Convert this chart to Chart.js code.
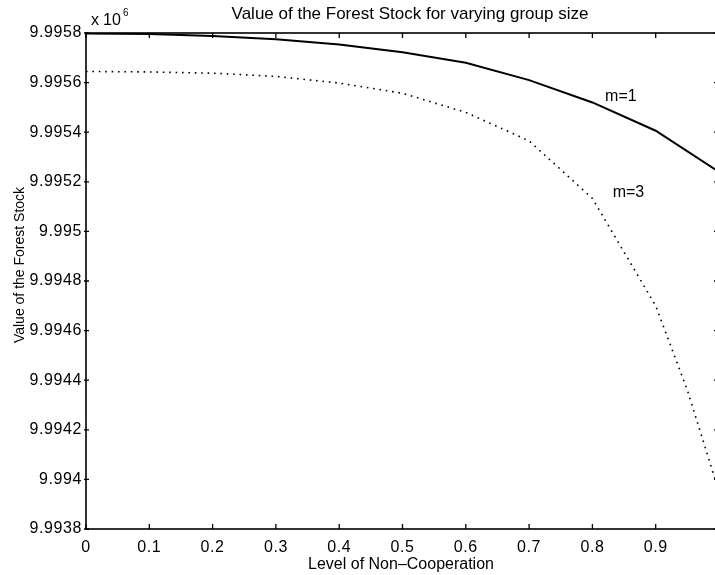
<!DOCTYPE html>
<html>
<head>
<meta charset="utf-8">
<script src="https://cdn.jsdelivr.net/npm/chart.js@4/dist/chart.umd.min.js"></script>
<style>
  html, body { margin: 0; padding: 0; background: #fff; overflow: hidden; }
  #c { display: block; }
</style>
</head>
<body>
<canvas id="c" width="720" height="575"></canvas>
<script>
// Level of non-cooperation (x) and forest stock value (in units of 10^6)
const xLevels = [0, 0.1, 0.2, 0.3, 0.4, 0.5, 0.6, 0.7, 0.8, 0.9, 1.0];
const stockM1 = [9.995798, 9.995796, 9.995788, 9.995775, 9.995754, 9.995722, 9.99568, 9.99561, 9.99552, 9.995406, 9.99524];
const xLevelsM3 = [0, 0.1, 0.2, 0.3, 0.4, 0.5, 0.6, 0.7, 0.8, 0.9, 0.95, 1.0];
const stockM3 = [9.995645, 9.995643, 9.995638, 9.995625, 9.995598, 9.995557, 9.99548, 9.995365, 9.995133, 9.9947, 9.99436, 9.99395];

const xTicks = [0, 0.1, 0.2, 0.3, 0.4, 0.5, 0.6, 0.7, 0.8, 0.9, 1];
const yTicks = [9.9938, 9.994, 9.9942, 9.9944, 9.9946, 9.9948, 9.995, 9.9952, 9.9954, 9.9956, 9.9958];

const seriesLabels = ['m=1', 'm=3'];
// curve labels, anchored in data coordinates
const curveNotes = [
  { text: 'm=1', x: 0.845, y: 9.995542 },
  { text: 'm=3', x: 0.857, y: 9.995155 }
];

const titleText = 'Value of the Forest Stock for varying group size';
const xTitle = 'Level of Non\u2013Cooperation';
const yTitle = 'Value of the Forest Stock';

const FONT = '"Liberation Sans", Arial, Helvetica, sans-serif';
Chart.defaults.font.family = FONT;
Chart.defaults.color = '#000';

const toXY = (xs, ys) => xs.map((x, i) => ({ x: x, y: ys[i] }));

function fmt(v) {
  return String(parseFloat(Number(v).toFixed(4)));
}

// slightly wider lettering for the tick labels
const spacingPlugin = {
  id: 'spacing',
  beforeDraw(chart) { chart.ctx.letterSpacing = '0.6px'; },
  afterDraw(chart) { chart.ctx.letterSpacing = '0px'; }
};

// frame, inward tick marks, titles and curve labels
const framePlugin = {
  id: 'frame',
  afterDraw(chart) {
    const { ctx, chartArea: a, scales } = chart;
    const xs = scales.x, ys = scales.y;
    ctx.save();
    ctx.letterSpacing = '0px';
    ctx.strokeStyle = '#000';
    ctx.lineWidth = 1.6;
    ctx.strokeRect(a.left, a.top, a.right - a.left, a.bottom - a.top);

    ctx.lineWidth = 1.3;
    const tl = 5;
    ctx.beginPath();
    xTicks.forEach(v => {
      const px = xs.getPixelForValue(v);
      ctx.moveTo(px, a.bottom); ctx.lineTo(px, a.bottom - tl);
      ctx.moveTo(px, a.top); ctx.lineTo(px, a.top + tl);
    });
    yTicks.forEach(v => {
      const py = ys.getPixelForValue(v);
      ctx.moveTo(a.left - 2, py); ctx.lineTo(a.left + tl - 2, py);
      ctx.moveTo(a.right, py); ctx.lineTo(a.right - tl, py);
    });
    ctx.stroke();

    ctx.fillStyle = '#000';
    // title
    ctx.font = '17px ' + FONT;
    ctx.textAlign = 'center';
    ctx.textBaseline = 'alphabetic';
    ctx.fillText(titleText, 410, 19);

    // exponent note
    ctx.textAlign = 'left';
    ctx.font = '16px ' + FONT;
    ctx.fillText('x', 91, 25);
    ctx.fillText('10', 103, 25);
    ctx.font = '10px ' + FONT;
    ctx.fillText('6', 123, 16);

    // x axis title
    ctx.font = '16px ' + FONT;
    ctx.textAlign = 'center';
    ctx.fillText(xTitle, 401, 569);

    // y axis title
    ctx.save();
    ctx.translate(24, 265);
    ctx.rotate(-Math.PI / 2);
    ctx.font = '14px ' + FONT;
    ctx.textAlign = 'center';
    ctx.fillText(yTitle, 0, 0);
    ctx.restore();

    // curve labels
    ctx.font = '16px ' + FONT;
    ctx.textAlign = 'center';
    ctx.textBaseline = 'middle';
    curveNotes.forEach(n => {
      ctx.fillText(n.text, xs.getPixelForValue(n.x), ys.getPixelForValue(n.y));
    });
    ctx.restore();
  }
};

new Chart(document.getElementById('c'), {
  type: 'line',
  data: {
    datasets: [
      {
        label: seriesLabels[0],
        data: toXY(xLevels, stockM1),
        borderColor: '#000',
        borderWidth: 2,
        pointRadius: 0,
        tension: 0,
        fill: false
      },
      {
        label: seriesLabels[1],
        data: toXY(xLevelsM3, stockM3),
        borderColor: '#000',
        borderWidth: 1.6,
        borderDash: [1.6, 4.8],
        pointRadius: 0,
        tension: 0,
        fill: false
      }
    ]
  },
  plugins: [spacingPlugin, framePlugin],
  options: {
    responsive: false,
    animation: false,
    layout: { padding: { top: 33, right: 1, left: 0, bottom: 0 } },
    plugins: {
      legend: { display: false },
      title: { display: false },
      tooltip: { enabled: false }
    },
    scales: {
      x: {
        type: 'linear',
        min: 0,
        max: 1,
        afterBuildTicks(scale) {
          scale.ticks = xTicks.map(v => ({ value: v }));
        },
        afterFit(scale) {
          scale.height = 46;
          scale.paddingRight = 0;
        },
        grid: { display: false, drawTicks: false },
        border: { display: false },
        ticks: {
          padding: 9,
          maxRotation: 0,
          autoSkip: false,
          font: { size: 16 },
          color: '#000',
          callback: v => (v >= 1 ? '' : fmt(v))
        }
      },
      y: {
        type: 'linear',
        min: 9.9938,
        max: 9.9958,
        afterBuildTicks(scale) {
          scale.ticks = yTicks.map(v => ({ value: v }));
        },
        afterFit(scale) { scale.width = 86; },
        grid: { display: false, drawTicks: false },
        border: { display: false },
        ticks: {
          padding: 4,
          autoSkip: false,
          font: { size: 16 },
          color: '#000',
          callback: v => fmt(v)
        }
      }
    }
  }
});
</script>
</body>
</html>
